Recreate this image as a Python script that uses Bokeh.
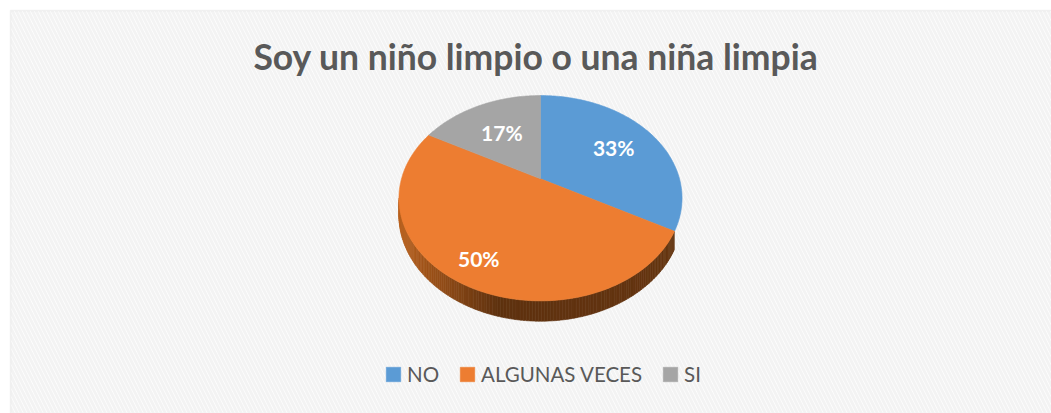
import numpy as np
from bokeh.plotting import figure
from bokeh.models import Range1d, ColumnDataSource, Label, Legend, LegendItem, BoxAnnotation
from bokeh.core.properties import value
from bokeh.embed import file_html
from bokeh.resources import INLINE

# ---- data ----
title_text = "Soy un niño limpio o una niña limpia"
categories = ["NO", "ALGUNAS VECES", "SI"]
values = [33, 50, 17]
colors = ["#5B9BD5", "#ED7D31", "#A5A5A5"]

# ---- layout constants (pixels) ----
W, H = 1051, 413
CX, CY = 540.0, 178.3      # apex of the pie
A, B = 139.0, 99.0         # horizontal / vertical radii
PERSP = 0.189              # perspective strength
DEPTH = 16.5               # thickness of the pie
SIDE_FROM, SIDE_TO = 119.0, 360.0 - 100.9
LABEL_R = [0.65, 0.8, 0.6]
FONT = "Lato"


def proj(theta_deg, f=1.0, dz=0.0):
    t = np.radians(theta_deg)
    s = 1.0 / (1.0 + PERSP * f * np.cos(t))
    x = CX + A * f * np.sin(t) * s
    y = CY - B * f * np.cos(t) * s + dz * s
    return x, y


def hex_to_rgb(h):
    h = h.lstrip("#")
    return [int(h[i:i + 2], 16) for i in (0, 2, 4)]


def rgb_to_hex(c):
    return "#%02x%02x%02x" % tuple(int(max(0, min(255, v))) for v in c)


p = figure(width=W, height=H, x_range=Range1d(0, W), y_range=Range1d(H, 0),
           x_axis_type=None, y_axis_type=None, min_border=0,
           toolbar_location=None, output_backend="svg")
p.outline_line_color = None
p.background_fill_color = "white"
p.border_fill_color = "white"

# chart area with faint hatch and light border
p.add_layout(BoxAnnotation(left=10, right=W + 20, top=10, bottom=H + 20,
                           fill_color="white", fill_alpha=1.0,
                           line_color="#d9d9d9", line_width=1.5,
                           hatch_pattern="\\", hatch_color="#f3f3f3",
                           hatch_scale=8, hatch_weight=3, level="underlay"))

total = float(sum(values))
fr = [v / total for v in values]
starts = np.concatenate([[0.0], np.cumsum(fr)[:-1]]) * 360.0
ends = np.cumsum(fr) * 360.0

# ---- side (front) of the pie ----
xmin = proj(SIDE_TO)[0]
xmax = proj(100.9)[0]
sx, sy, sc = [], [], []
for i in range(len(values)):
    a1, a2 = max(starts[i], SIDE_FROM), min(ends[i], SIDE_TO)
    if a2 <= a1:
        continue
    n = max(1, int(np.ceil((a2 - a1) / 1.0)))
    edges = np.linspace(a1, a2, n + 1)
    base = np.array(hex_to_rgb(colors[i]), dtype=float)
    for k in range(n):
        arc = np.linspace(edges[k], edges[k + 1], 3)
        tx, ty = proj(arc)
        bx, by = proj(arc[::-1], dz=DEPTH)
        xm = proj((edges[k] + edges[k + 1]) / 2)[0]
        t = (xm - xmin) / (xmax - xmin)
        if t < 0.35:
            kf = 0.78 - (0.78 - 0.40) * (t / 0.35)
        else:
            kf = 0.40 + 0.03 * (t - 0.35) / 0.65
        c = base * kf
        c[2] *= 0.8
        sx.append(list(tx) + list(bx))
        sy.append(list(ty) + list(by))
        sc.append(rgb_to_hex(c))
p.patches(xs="xs", ys="ys", fill_color="c", line_color="c", line_width=0.6,
          source=ColumnDataSource(dict(xs=sx, ys=sy, c=sc)))

# ---- top faces ----
fx, fy = [], []
for i in range(len(values)):
    arc = np.linspace(starts[i], ends[i], max(3, int(ends[i] - starts[i]) + 1))
    ax, ay = proj(arc)
    fx.append([CX] + list(ax))
    fy.append([CY] + list(ay))
top = p.patches(xs="xs", ys="ys", fill_color="c", line_color="c", line_width=0.6,
                source=ColumnDataSource(dict(xs=fx, ys=fy, c=colors, label=categories)))

# ---- data labels ----
lx, ly, lt = [], [], []
for i in range(len(values)):
    mid = (starts[i] + ends[i]) / 2
    x, y = proj(mid, f=LABEL_R[i])
    lx.append(x)
    ly.append(y)
    lt.append(f"{round(fr[i] * 100)}%")
p.text(x="x", y="y", text="t", source=ColumnDataSource(dict(x=lx, y=ly, t=lt)),
       text_color="white", text_font=value(FONT), text_font_style="bold",
       text_font_size="21px", text_align="center", text_baseline="middle")

# ---- title ----
p.add_layout(Label(x=535.5, y=56, text=title_text, text_font=FONT,
                   text_font_style="bold", text_font_size="35.5px",
                   text_color="#595959", text_align="center",
                   text_baseline="middle"))

# ---- legend ----
items = [LegendItem(label=categories[i], renderers=[top], index=i)
         for i in range(len(values))]
legend = Legend(items=items, orientation="horizontal", location=(384, 27),
                glyph_width=18, glyph_height=18, label_standoff=5, spacing=19,
                padding=0, margin=0, label_text_font=FONT,
                label_text_font_size="20.5px", label_text_color="#595959",
                background_fill_alpha=0, border_line_alpha=0,
                label_height=14)
p.add_layout(legend)

open("out.html", "w").write(file_html(p, INLINE))
